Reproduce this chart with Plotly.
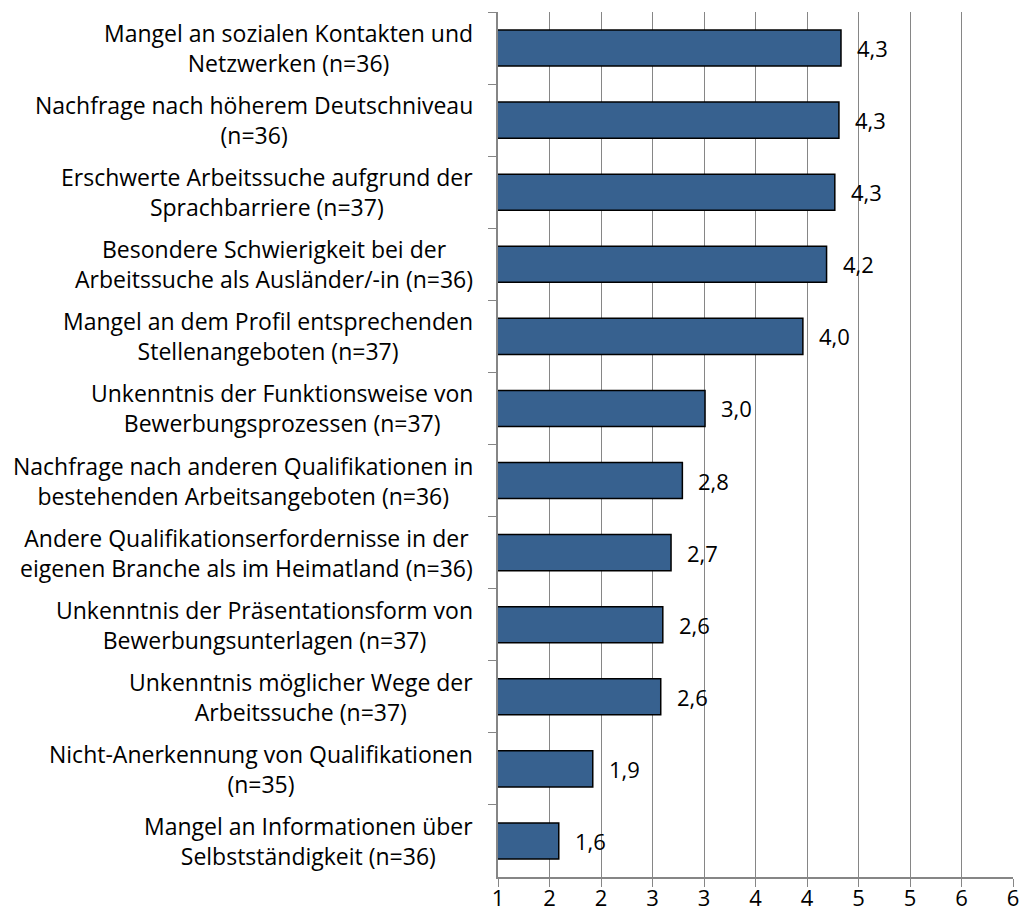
import plotly.graph_objects as go

# Kategorien (je zwei Zeilen) und Mittelwerte
categories = [
    "Mangel an sozialen Kontakten und\nNetzwerken (n=36)",
    "Nachfrage nach höherem Deutschniveau\n(n=36)",
    "Erschwerte Arbeitssuche aufgrund der\nSprachbarriere (n=37)",
    "Besondere Schwierigkeit bei der\nArbeitssuche als Ausländer/-in (n=36)",
    "Mangel an dem Profil entsprechenden\nStellenangeboten (n=37)",
    "Unkenntnis der Funktionsweise von\nBewerbungsprozessen (n=37)",
    "Nachfrage nach anderen Qualifikationen in\nbestehenden Arbeitsangeboten (n=36)",
    "Andere Qualifikationserfordernisse in der\neigenen Branche als im Heimatland (n=36)",
    "Unkenntnis der Präsentationsform von\nBewerbungsunterlagen (n=37)",
    "Unkenntnis möglicher Wege der\nArbeitssuche (n=37)",
    "Nicht-Anerkennung von Qualifikationen\n(n=35)",
    "Mangel an Informationen über\nSelbstständigkeit (n=36)",
]
values = [4.33, 4.31, 4.27, 4.19, 3.96, 3.01, 2.79, 2.68, 2.60, 2.58, 1.92, 1.59]

FONT = "Open Sans"
FS = 23
GRID = "#868686"

fig = go.Figure()
fig.add_trace(go.Bar(
    x=values, y=categories, orientation="h",
    marker=dict(color="#37618f", line=dict(color="black", width=1.5)),
    hoverinfo="skip",
))

# value labels right of the bars
for c, v in zip(categories, values):
    fig.add_annotation(
        x=v, y=c, xref="x", yref="y", text=f"{v:.1f}".replace(".", ","),
        showarrow=False, xanchor="left", yanchor="middle", xshift=14,
        font=dict(family=FONT, size=22, color="black"),
    )

# category labels, lines centred on each other, block right-aligned
for c in categories:
    fig.add_annotation(
        x=0, y=c, xref="paper", yref="y", text=c.replace("\n", "<br>"),
        showarrow=False, xanchor="right", yanchor="middle", align="center",
        xshift=-23,
        font=dict(family=FONT, size=FS, color="black"),
    )

fig.update_layout(
    width=1022, height=915,
    margin=dict(l=498, r=9, t=12, b=38),
    paper_bgcolor="white", plot_bgcolor="white",
    bargap=0.5, showlegend=False,
    font=dict(family=FONT, size=FS, color="black"),
)
fig.update_xaxes(
    range=[1, 6], tick0=1, dtick=0.5, tickformat=".0f",
    showgrid=True, gridcolor=GRID, gridwidth=1.2,
    showline=True, linecolor=GRID, linewidth=1.5,
    ticks="outside", ticklen=8, tickcolor=GRID, ticklabelstandoff=-7,
    zeroline=False, fixedrange=True, automargin=False,
    tickfont=dict(family=FONT, size=22, color="black"),
)
fig.update_yaxes(
    autorange="reversed", showticklabels=False,
    showline=True, linecolor=GRID, linewidth=1.5,
    ticks="outside", ticklen=8, tickcolor=GRID, tickson="boundaries",
    showgrid=False, fixedrange=True, automargin=False,
)

# drop the default 8px page margin so the figure sits at the window corner
fig.write_html("out.html", config={"displayModeBar": False},
               post_script="document.body.style.margin='0';")
